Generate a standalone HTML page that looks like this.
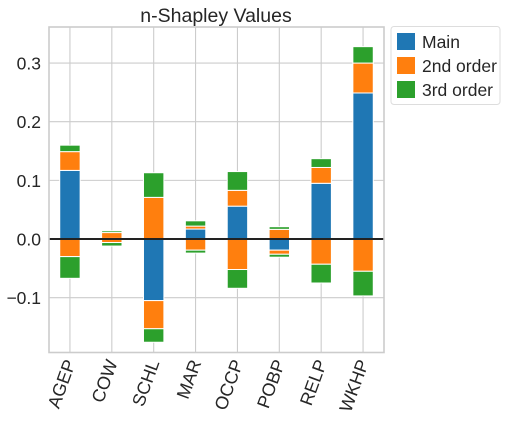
<!DOCTYPE html>
<html><head><meta charset="utf-8"><style>
body{margin:0;background:#fff;font-family:"Liberation Sans",Arial,sans-serif}
svg text{font-family:"Liberation Sans",Arial,sans-serif;fill:#262626}
</style></head><body>
<svg id="chart" width="506" height="421" viewBox="0 0 506 421" xmlns="http://www.w3.org/2000/svg">
<text x="216" y="22" font-size="19.5" text-anchor="middle">n-Shapley Values</text>
<g id="grid"></g>
<g id="bars"></g>
<line id="zero" x1="49" x2="384" stroke="#222" stroke-width="2"/>
<rect x="49" y="27" width="335" height="325.5" fill="none" stroke="#ccc" stroke-width="1.6"/>
<g id="yticks"></g>
<g id="xticks"></g>
<g>
<rect x="391" y="26.5" width="109" height="78" rx="3" fill="#fff" stroke="#ddd"/>
<g><rect x="397" y="33" width="18" height="17" fill="#1f77b4"/><text x="422" y="48" font-size="17.5">Main</text></g>
<g><rect x="397" y="57" width="18" height="17" fill="#ff7f0e"/><text x="422" y="72" font-size="17.5">2nd order</text></g>
<g><rect x="397" y="81" width="18" height="17" fill="#2ca02c"/><text x="422" y="96" font-size="17.5">3rd order</text></g>
</g>
</svg>
<script>
const categories=["AGEP","COW","SCHL","MAR","OCCP","POBP","RELP","WKHP"];
const mainVals=[0.117,0.001,-0.105,0.017,0.056,-0.019,0.095,0.249];
const order2Pos=[0.032,0.010,0.071,0.005,0.027,0.0165,0.027,0.051];
const order2Neg=[-0.030,-0.006,-0.048,-0.019,-0.052,-0.007,-0.043,-0.055];
const order3Pos=[0.011,0.003,0.042,0.009,0.032,0.0045,0.015,0.028];
const order3Neg=[-0.037,-0.006,-0.023,-0.005,-0.032,-0.005,-0.032,-0.042];
const yTicks=[-0.1,0.0,0.1,0.2,0.3];
const yTickLabels=["−0.1","0.0","0.1","0.2","0.3"];
const NS="http://www.w3.org/2000/svg";
const X0=49,X1=384,Y0=27,Y1=352.5,ymin=-0.1935,ymax=0.3615;
const y=v=>Y0+(ymax-v)/(ymax-ymin)*(Y1-Y0);
const step=(X1-X0)/categories.length;
const x=i=>X0+step*(i+0.5);
function mk(t,a,p){const e=document.createElementNS(NS,t);for(const k in a)e.setAttribute(k,a[k]);p.appendChild(e);return e;}
const grid=document.getElementById('grid'),bars=document.getElementById('bars'),yt=document.getElementById('yticks'),xt=document.getElementById('xticks');
yTicks.forEach((v,i)=>{
 const l=mk('line',{x1:X0,x2:X1,y1:y(v),y2:y(v),stroke:'#ccc','stroke-width':1.1},grid);
 
 
 const t=mk('text',{x:X0-8,y:y(v)+6.5,'font-size':17.5,'text-anchor':'end'},yt);
 t.textContent=yTickLabels[i];
 
 
});
document.getElementById('zero').setAttribute('y1',y(0));
document.getElementById('zero').setAttribute('y2',y(0));
const colors={m:'#1f77b4',o2:'#ff7f0e',o3:'#2ca02c'};
categories.forEach((c,i)=>{
 const l=mk('line',{x1:x(i),x2:x(i),y1:Y0,y2:Y1,stroke:'#ccc','stroke-width':1.1},grid);
 
 
 let pos=0,neg=0;
 const seg=(v,col,name)=>{
  let a,b;
  if(v>=0){a=pos;b=pos+v;pos=b;}else{a=neg;b=neg+v;neg=b;}
  const top=y(Math.max(a,b)),bot=y(Math.min(a,b));
  const r=mk('rect',{x:x(i)-10.2,y:top,width:20.4,height:Math.max(bot-top,0),fill:col,stroke:'#fff','stroke-width':1},bars);
  
  
 };
 seg(mainVals[i],colors.m,'main');
 seg(order2Pos[i],colors.o2,'2nd-pos');
 seg(order2Neg[i],colors.o2,'2nd-neg');
 seg(order3Pos[i],colors.o3,'3rd-pos');
 seg(order3Neg[i],colors.o3,'3rd-neg');
 const t=mk('text',{x:0,y:0,'font-size':18,'text-anchor':'end',transform:`translate(${x(i)+6},${Y1+10}) rotate(-70)`},xt);
 t.textContent=c;
 
 
});
</script>
</body></html>
